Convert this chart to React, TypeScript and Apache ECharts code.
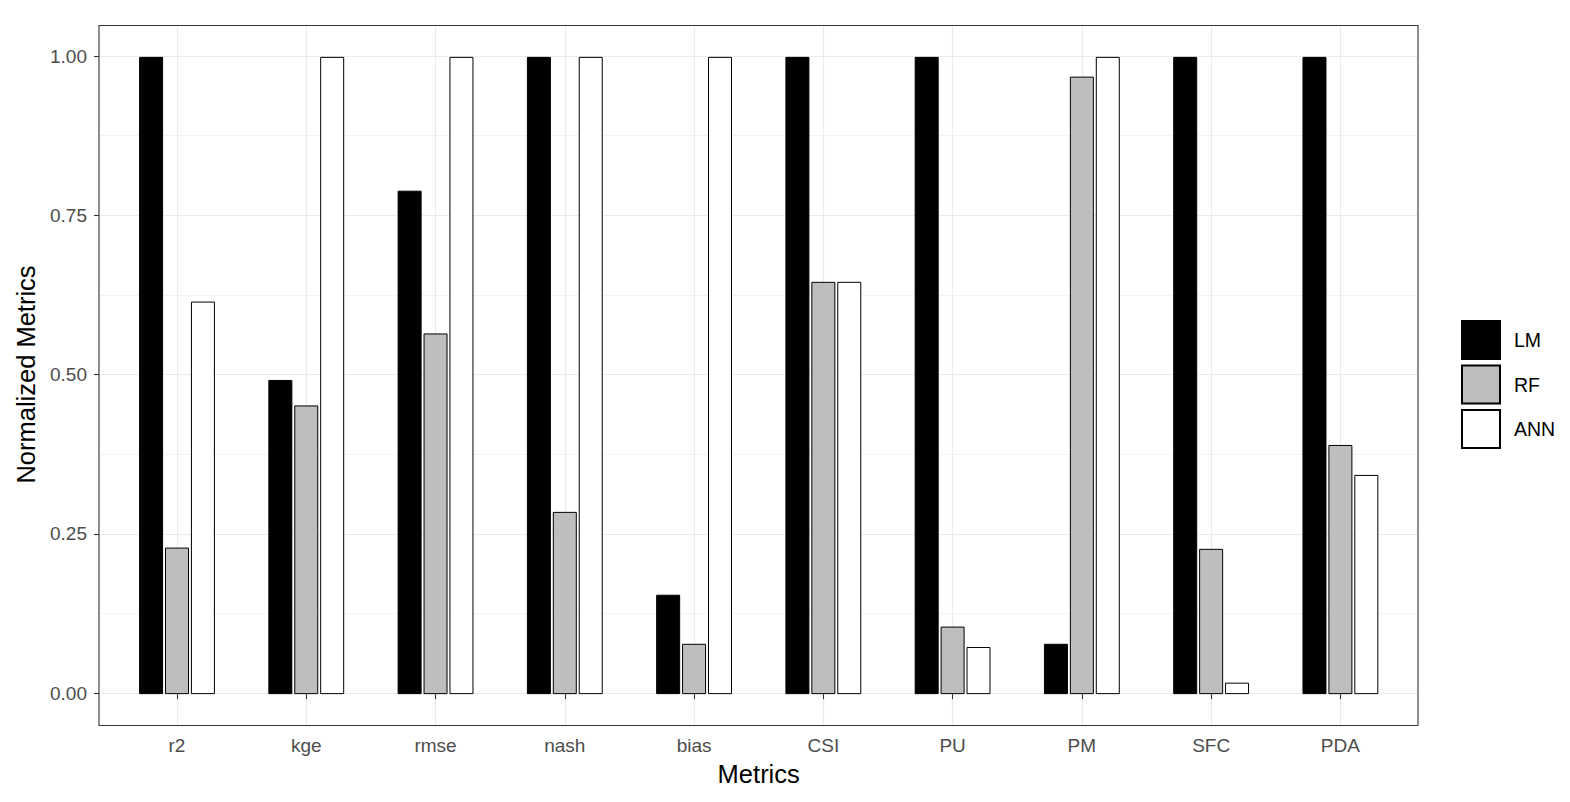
import React, { useEffect, useRef } from "react";
import * as echarts from "echarts";

const categories = ["r2", "kge", "rmse", "nash", "bias", "CSI", "PU", "PM", "SFC", "PDA"];
const seriesNames = ["LM", "RF", "ANN"];
const lmValues = [1.0, 0.493, 0.79, 1.0, 0.156, 1.0, 1.0, 0.079, 1.0, 1.0];
const rfValues = [0.23, 0.453, 0.566, 0.286, 0.079, 0.647, 0.106, 0.969, 0.228, 0.391];
const annValues = [0.616, 1.0, 1.0, 1.0, 1.0, 0.647, 0.074, 1.0, 0.018, 0.344];
const seriesColors = ["#000000", "#BEBEBE", "#FFFFFF"];
const yTicks = [0, 0.25, 0.5, 0.75, 1.0];

const FONT = "Liberation Sans, Arial, sans-serif";

export default function App() {
  const ref = useRef<HTMLDivElement>(null);
  useEffect(() => {
    if (!ref.current) return;
    const chart = echarts.init(ref.current, null, { renderer: "svg" });
    const values = [lmValues, rfValues, annValues];
    const option: any = {
      animation: false,
      backgroundColor: "#FFFFFF",
      textStyle: { fontFamily: FONT },
      grid: [
        { left: 99, right: 152, top: 56, bottom: 109, containLabel: false },
        { left: 177, right: 229.6, top: 25, bottom: 76, containLabel: false },
      ],
      xAxis: [
        { type: "value", gridIndex: 0, show: false, min: 0, max: 1 },
        {
          type: "category",
          gridIndex: 1,
          data: categories,
          boundaryGap: false,
          axisLine: { show: false },
          axisTick: { show: true, length: 5, lineStyle: { color: "#333333", width: 1.1 } },
          axisLabel: { color: "#4D4D4D", fontSize: 19, fontFamily: FONT, margin: 10, interval: 0 },
          splitLine: { show: true, lineStyle: { color: "#EBEBEB", width: 1.1 } },
          name: "Metrics",
          nameLocation: "middle",
          nameGap: 35,
          nameTextStyle: { color: "#000000", fontSize: 25.5, fontFamily: FONT },
        },
      ],
      yAxis: [
        {
          type: "value",
          gridIndex: 0,
          min: 0,
          max: 1,
          interval: 0.25,
          axisLine: { show: false },
          axisTick: { show: true, length: 5, lineStyle: { color: "#333333", width: 1.1 } },
          axisLabel: {
            color: "#4D4D4D",
            fontSize: 19,
            fontFamily: FONT,
            margin: 12,
            formatter: (v: number) => {
              const t = yTicks.find((x) => Math.abs(x - v) < 1e-9);
              return t === undefined ? "" : t.toFixed(2);
            },
          },
          splitLine: { show: true, lineStyle: { color: "#EBEBEB", width: 1.1 } },
          minorTick: { show: false, splitNumber: 2 },
          minorSplitLine: { show: true, lineStyle: { color: "#EBEBEB", width: 0.6 } },
          name: "Normalized Metrics",
          nameLocation: "middle",
          nameGap: 58,
          nameTextStyle: { color: "#000000", fontSize: 25.5, fontFamily: FONT },
        },
        {
          type: "value",
          gridIndex: 1,
          min: -0.05,
          max: 1.05,
          show: false,
          splitLine: { show: false },
        },
      ],
      legend: {
        orient: "vertical",
        left: 1461,
        top: 320,
        padding: 0,
        itemWidth: 38,
        itemHeight: 38,
        itemGap: 4.5,
        icon: "rect",
        data: seriesNames,
        textStyle: { color: "#000000", fontSize: 19.5, fontFamily: FONT, padding: [0, 0, 0, 9] },
      },
      series: seriesNames.map((name, i) => ({
        name,
        type: "bar",
        xAxisIndex: 1,
        yAxisIndex: 1,
        data: values[i],
        barWidth: 24,
        barGap: "8%",
        clip: false,
        itemStyle: { color: seriesColors[i], borderColor: "#000000", borderWidth: 1 },
        emphasis: { disabled: true },
      })),
      graphic: [
        {
          type: "rect",
          shape: { x: 99, y: 25.5, width: 1319, height: 700 },
          style: { fill: "none", stroke: "#333333", lineWidth: 1.1 },
          z: 100,
        },
      ],
    };
    chart.setOption(option);
    return () => chart.dispose();
  }, []);
  return (
    <div
      ref={ref}
      style={{ position: "fixed", left: 0, top: 0, width: "1570px", height: "802px" }}
    />
  );
}
